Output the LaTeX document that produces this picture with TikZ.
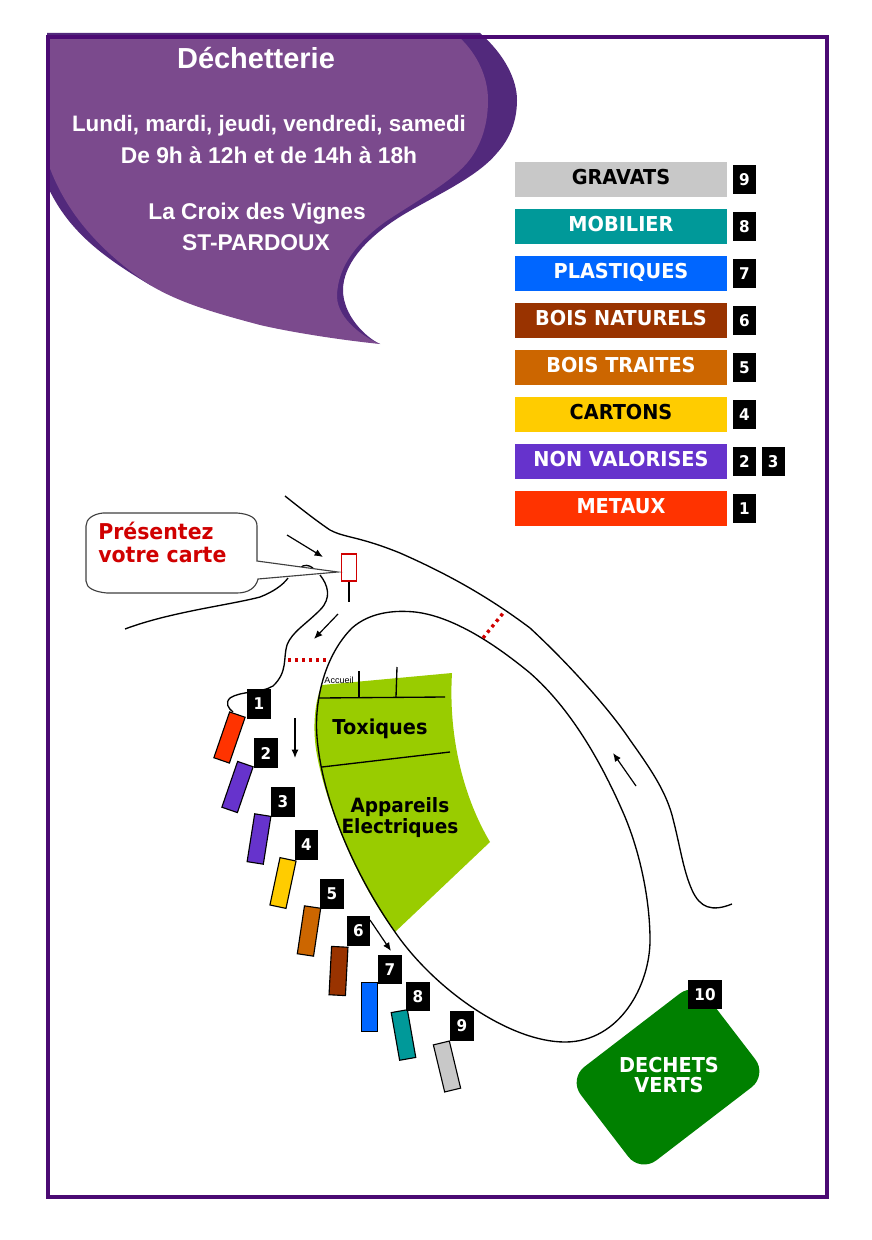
\documentclass[tikz,border=0pt]{standalone}
\usepackage{fontspec}
\setmainfont{Liberation Sans}
\newfontfamily\signfont[FakeStretch=0.94]{DejaVu Sans}
\usetikzlibrary{positioning,arrows.meta}
\definecolor{framepurple}{HTML}{4B0A73}
\definecolor{bubblefill}{HTML}{7B4A8D}
\definecolor{bubbleshade}{HTML}{52297C}
\definecolor{signred}{HTML}{D00000}
\definecolor{toxicgreen}{HTML}{99CC00}
\definecolor{wastegreen}{HTML}{008000}
\definecolor{cGravats}{HTML}{C8C8C8}
\definecolor{cMobilier}{HTML}{009999}
\definecolor{cPlastiques}{HTML}{0066FF}
\definecolor{cBoisNat}{HTML}{993300}
\definecolor{cBoisTr}{HTML}{CC6600}
\definecolor{cCartons}{HTML}{FFCC00}
\definecolor{cNonVal}{HTML}{6633CC}
\definecolor{cMetaux}{HTML}{FF3300}
\tikzset{
    legendbox/.style={minimum width=5.3cm, minimum height=0.875cm, inner sep=0pt, text depth=0.125cm,
        font=\signfont\bfseries\fontsize{14.6}{16}\selectfont},
    numbox/.style={fill=black, text=white, minimum width=0.585cm, minimum height=0.73cm, inner sep=0pt,
        font=\signfont\bfseries\fontsize{11.5}{13}\selectfont},
    binbox/.style={draw=black, line width=0.8pt, minimum width=0.41cm, minimum height=1.21cm, inner sep=0pt},
    roadline/.style={line width=0.95pt},
    gateline/.style={signred, line width=2.4pt, dash pattern=on 2.2pt off 2.8pt},
    zonetext/.style={font=\signfont\bfseries\fontsize{14.6}{14.9}\selectfont, align=center, inner sep=0pt},
    hourstext/.style={text=white, anchor=base, font=\bfseries\fontsize{16.2}{18}\selectfont, inner sep=0pt},
    moveline/.style={-{Latex[length=6pt,width=5pt]}, line width=0.85pt}
}

\begin{document}
\begin{tikzpicture}[x=0.025cm, y=-0.025cm]
    \useasboundingbox (0,0) rectangle (872,1240);

    % bubble with the opening hours
    \fill[bubbleshade] (47,33) -- (480,33) .. controls (505,55) and (517,80) .. (517,100) .. controls (517,125) and (507,142) .. (497,153)
        .. controls (475,180) and (425,200) .. (395,220) .. controls (365,240) and (343,265) .. (343,290)
        .. controls (343,315) and (365,337) .. (380,344) -- (150,285) .. controls (105,258) and (68,232) .. (47,185) -- cycle;
    \fill[bubblefill] (47,37) -- (460,38) .. controls (478,55) and (488,78) .. (488,100) .. controls (488,130) and (478,150) .. (467,163)
        .. controls (450,183) and (410,205) .. (385,222) .. controls (360,240) and (337,265) .. (337,297)
        .. controls (338,320) and (365,338) .. (380,344) .. controls (340,340) and (290,332) .. (260,325)
        .. controls (215,313) and (180,303) .. (150,285) .. controls (105,255) and (65,215) .. (47,160) -- cycle;
    \draw[framepurple, line width=2.9pt] (48,37) rectangle (827,1197);

    \node[hourstext, font=\bfseries\fontsize{20.6}{22}\selectfont] (title) at (256,69) {Déchetterie};
    \node[hourstext, font=\bfseries\fontsize{15.9}{18}\selectfont] (days) at (269,131.5) {Lundi, mardi, jeudi, vendredi, samedi};
    \node[hourstext] (hours) at (269,164) {De 9h à 12h et de 14h à 18h};
    \node[hourstext] (place) at (257,220) {La Croix des Vignes};
    \node[hourstext] (town) at (256,250.5) {ST-PARDOUX};

    % legend
    \foreach \y/\col/\ink/\txt/\num in {179.5/cGravats/black/GRAVATS/9, 226.5/cMobilier/white/MOBILIER/8,
        273.5/cPlastiques/white/PLASTIQUES/7, 320.5/cBoisNat/white/BOIS NATURELS/6,
        367.5/cBoisTr/white/BOIS TRAITES/5, 414.5/cCartons/black/CARTONS/4,
        461.5/cNonVal/white/NON VALORISES/2, 508.5/cMetaux/white/METAUX/1}
    {
        \node[legendbox, fill=\col, text=\ink] (legend\num) at (621,\y) {\txt};
        \node[numbox, right=0.125cm of legend\num] (key\num) {\num};
    }
    \node[numbox, right=0.125cm of key2] (key3) {3};

    % road
    \fill[toxicgreen] (322,685) .. controls (313,705) and (313,735) .. (317,755) .. controls (325,800) and (355,880) .. (395,932)
        -- (490,842) .. controls (465,800) and (448,740) .. (452,673) -- cycle;
    \draw[roadline] (285,496) .. controls (300,508) and (318,522) .. (330,530) .. controls (345,538) and (358,536) .. (400,553)
        .. controls (450,575) and (490,598) .. (530,628) .. controls (570,665) and (610,710) .. (630,740)
        .. controls (650,768) and (665,790) .. (672,815) .. controls (680,845) and (683,870) .. (692,890)
        .. controls (700,908) and (712,912) .. (732,904);
    \draw[roadline] (317,737) .. controls (314,700) and (325,655) .. (352,628) .. controls (370,612) and (395,610) .. (415,612)
        .. controls (450,616) and (490,640) .. (530,673) .. controls (570,708) and (600,760) .. (622,810)
        .. controls (640,850) and (650,900) .. (650,940) .. controls (650,985) and (620,1042) .. (565,1042)
        .. controls (510,1042) and (435,990) .. (395,932) .. controls (355,875) and (322,800) .. (317,737) -- cycle;
    \draw[roadline] (125,629) .. controls (170,612) and (230,605) .. (260,597) .. controls (273,592) and (283,585) .. (288,578);
    \draw[roadline] (320,575) .. controls (328,585) and (332,598) .. (320,610) .. controls (305,625) and (292,632) .. (287,645)
        .. controls (283,658) and (288,672) .. (273,686) .. controls (262,693) and (240,691) .. (230,698)
        .. controls (225,703) and (228,708) .. (233,712);
    \draw[roadline] (300,568) .. controls (304,564) and (309,565) .. (313,568);

    % inside the ring
    \coordinate (shedleft) at (319,698);
    \coordinate (shedright) at (445,697);
    \coordinate (shedtopa) at (359,671);
    \coordinate (shedfoota) at (359,698);
    \coordinate (shedtopb) at (397,667);
    \coordinate (shedfootb) at (396,697);
    \coordinate (splitleft) at (322,767);
    \coordinate (splitright) at (450,752);
    \draw[roadline] (shedleft) -- (shedright);
    \draw[roadline] (shedtopa) -- (shedfoota);
    \draw[roadline] (shedtopb) -- (shedfootb);
    \draw[roadline] (splitleft) -- (splitright);
    \node[font=\fontsize{6.4}{7}\selectfont, inner sep=0pt] (accueil) at (339,680) {Accueil};
    \node[zonetext] (toxiques) at (380,729) {Toxiques};
    \node[zonetext, font=\signfont\bfseries\fontsize{14}{14.9}\selectfont] (appareils) at (400,818) {Appareils\\Electriques};

    % callout and gate
    \draw[fill=white, draw=black!75, line width=0.8pt] (103,513) -- (237,513) .. controls (250,514) and (257,518) .. (257,526)
        -- (257,561) -- (338,572) -- (258,579) .. controls (256,588) and (248,593) .. (237,593)
        -- (107,593) .. controls (95,592) and (86,588) .. (86,581) -- (86,526) .. controls (86,519) and (93,514) .. (103,513) -- cycle;
    \node[text=signred, font=\signfont\bfseries\fontsize{15.5}{16.4}\selectfont, align=left, inner sep=0pt, anchor=west] (carte) at (98,542) {Présentez\\votre carte};
    \node[draw=signred, line width=1pt, minimum width=0.38cm, minimum height=0.67cm, inner sep=0pt] (gate) at (349,567.5) {};
    \coordinate (gatefoot) at (349,602);
    \draw[roadline] (gate.south) -- (gatefoot);

    % barriers
    \coordinate (barA) at (288,660);
    \coordinate (barB) at (328,660);
    \coordinate (barC) at (483,638);
    \coordinate (barD) at (504,612);
    \draw[gateline] (barA) -- (barB);
    \draw[gateline] (barC) -- (barD);

    % direction of travel
    \coordinate (moveA) at (287,535);
    \coordinate (moveB) at (323,557);
    \coordinate (moveC) at (338,614);
    \coordinate (moveD) at (314,639);
    \coordinate (moveE) at (295,718);
    \coordinate (moveF) at (295,758);
    \coordinate (moveG) at (370,920);
    \coordinate (moveH) at (391,951);
    \coordinate (moveI) at (636,786);
    \coordinate (moveJ) at (613,753);
    \draw[moveline] (moveA) -- (moveB);
    \draw[moveline] (moveC) -- (moveD);
    \draw[moveline] (moveE) -- (moveF);
    \draw[moveline] (moveG) -- (moveH);
    \draw[moveline] (moveI) -- (moveJ);

    % skips and their numbers
    \foreach \n/\col/\bx/\by/\ang/\kx/\ky in {1/cMetaux/229.5/737.5/-19/259/704, 2/cNonVal/237.5/787/-19/266/753,
        3/cNonVal/259/839/-9/283/802, 4/cCartons/283/883/-12/306.5/845, 5/cBoisTr/309/931/-8.5/332/894,
        6/cBoisNat/338.5/971/-3/358.5/931, 7/cPlastiques/369.5/1007/0/390/969.5, 8/cMobilier/403.5/1035/10/418/996.5,
        9/cGravats/447/1066.5/13.5/462/1026}
    {
        \node[binbox, fill=\col, rotate=\ang] (skip\n) at (\bx,\by) {};
        \node[numbox] (num\n) at (\kx,\ky) {\n};
    }

    % green waste
    \node[fill=wastegreen, rounded corners=0.5cm, minimum width=4cm, minimum height=2.95cm, rotate=37.5] (verts) at (668,1077) {};
    \node[zonetext, text=white] (vertstext) at (669,1075) {DECHETS\\VERTS};
    \node[numbox, minimum width=0.85cm] (num10) at (705,994.5) {10};
\end{tikzpicture}
\end{document}
